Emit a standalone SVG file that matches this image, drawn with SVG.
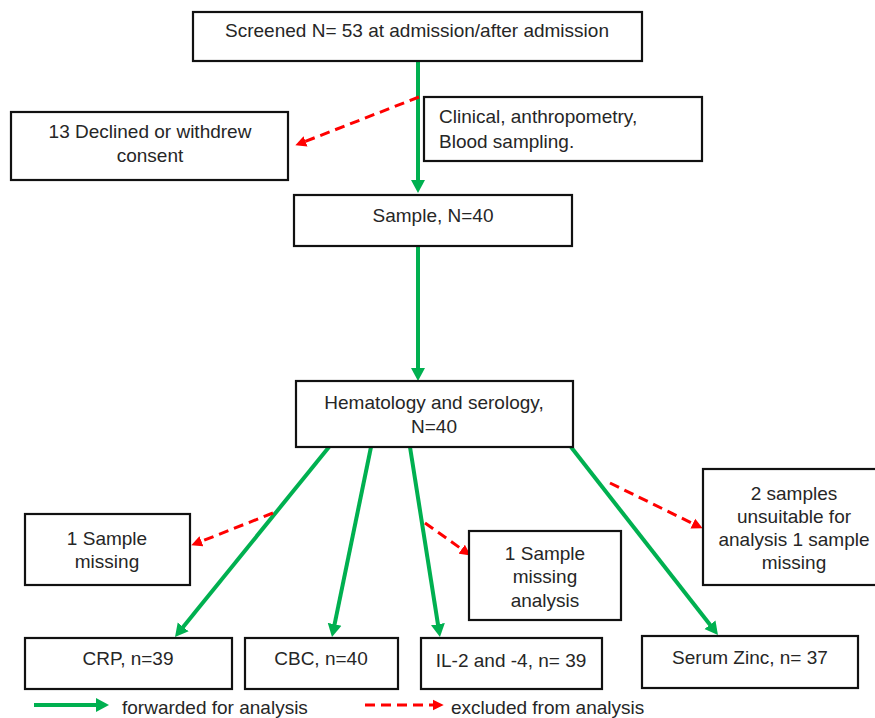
<svg xmlns="http://www.w3.org/2000/svg" width="875" height="718" viewBox="0 0 875 718">
<style>
.box{fill:#fff;stroke:#111;stroke-width:2.2}
text{font-family:"Liberation Sans",Arial,sans-serif;font-size:19px;fill:#262626}
.c{text-anchor:middle}
.g{stroke:#00b050;stroke-width:4;fill:none}
.r{stroke:#ff0000;stroke-width:3;fill:none;stroke-dasharray:10 6}
</style>
<defs>
<marker id="ga" markerUnits="userSpaceOnUse" markerWidth="14" markerHeight="16" refX="3" refY="7" orient="auto" viewBox="0 0 14 14"><path d="M0,0 L13,7 L0,14 z" fill="#00b050"/></marker>
<marker id="ra" markerUnits="userSpaceOnUse" markerWidth="12" markerHeight="12" refX="2" refY="5" orient="auto" viewBox="0 0 11 10"><path d="M0,0 L10,5 L0,10 z" fill="#ff0000"/></marker>
</defs>
<rect width="875" height="718" fill="#fff"/>
<g id="connectors">
<line class="g" x1="418" y1="61" x2="418" y2="183" marker-end="url(#ga)"/>
<line class="g" x1="418" y1="246" x2="418" y2="371" marker-end="url(#ga)"/>
<line class="g" x1="329" y1="447" x2="181.3" y2="629.2" marker-end="url(#ga)"/>
<line class="g" x1="371" y1="447" x2="334" y2="627.2" marker-end="url(#ga)"/>
<line class="g" x1="410" y1="447" x2="438.4" y2="627.1" marker-end="url(#ga)"/>
<line class="g" x1="571" y1="447" x2="711.8" y2="627.1" marker-end="url(#ga)"/>
<line class="r" x1="419" y1="97" x2="303.5" y2="142.1" marker-end="url(#ra)"/>
<line class="r" x1="273" y1="513" x2="199.4" y2="542.1" marker-end="url(#ra)"/>
<line class="r" x1="425" y1="523" x2="463.5" y2="550.4" marker-end="url(#ra)"/>
<line class="r" x1="610" y1="483" x2="694.8" y2="524.5" marker-end="url(#ra)"/>
</g>
<g id="screened"><rect class="box" x="193" y="12" width="449" height="49"/><text class="c" x="417" y="37">Screened N= 53 at admission/after admission</text></g>
<g id="clinical"><rect class="box" x="424" y="97" width="278" height="64"/><text x="439" y="123">Clinical, anthropometry,</text><text x="439" y="148">Blood sampling.</text></g>
<g id="declined"><rect class="box" x="11" y="112" width="277" height="68"/><text class="c" x="150" y="138">13 Declined or withdrew</text><text class="c" x="150" y="162">consent</text></g>
<g id="sample"><rect class="box" x="294" y="195" width="278" height="51"/><text class="c" x="433" y="222">Sample, N=40</text></g>
<g id="hematology"><rect class="box" x="296" y="381" width="277" height="66"/><text class="c" x="434" y="409">Hematology and serology,</text><text class="c" x="434" y="433">N=40</text></g>
<g id="missing1"><rect class="box" x="25" y="514" width="165" height="71"/><text class="c" x="107" y="545">1 Sample</text><text class="c" x="107" y="568">missing</text></g>
<g id="missing2"><rect class="box" x="469" y="531" width="152" height="89"/><text class="c" x="545" y="560">1 Sample</text><text class="c" x="545" y="583">missing</text><text class="c" x="545" y="607">analysis</text></g>
<g id="unsuitable"><rect class="box" x="703" y="469" width="180" height="116"/><text class="c" x="794" y="500">2 samples</text><text class="c" x="794" y="523">unsuitable for</text><text class="c" x="794" y="546">analysis 1 sample</text><text class="c" x="794" y="569">missing</text></g>
<g id="crp"><rect class="box" x="25" y="638" width="207" height="51"/><text class="c" x="128" y="665">CRP, n=39</text></g>
<g id="cbc"><rect class="box" x="245" y="638" width="153" height="51"/><text class="c" x="321" y="665">CBC, n=40</text></g>
<g id="il"><rect class="box" x="421" y="638" width="181" height="51"/><text class="c" x="511" y="667">IL-2 and -4, n= 39</text></g>
<g id="zinc"><rect class="box" x="642" y="636" width="216" height="52"/><text class="c" x="750" y="664">Serum Zinc, n= 37</text></g>
<g id="legend">
<line class="g" x1="34" y1="705" x2="99" y2="705" marker-end="url(#ga)"/>
<text x="122" y="714">forwarded for analysis</text>
<line class="r" x1="365" y1="705" x2="435" y2="705" marker-end="url(#ra)"/>
<text x="451" y="714">excluded from analysis</text>
</g>
</svg>
